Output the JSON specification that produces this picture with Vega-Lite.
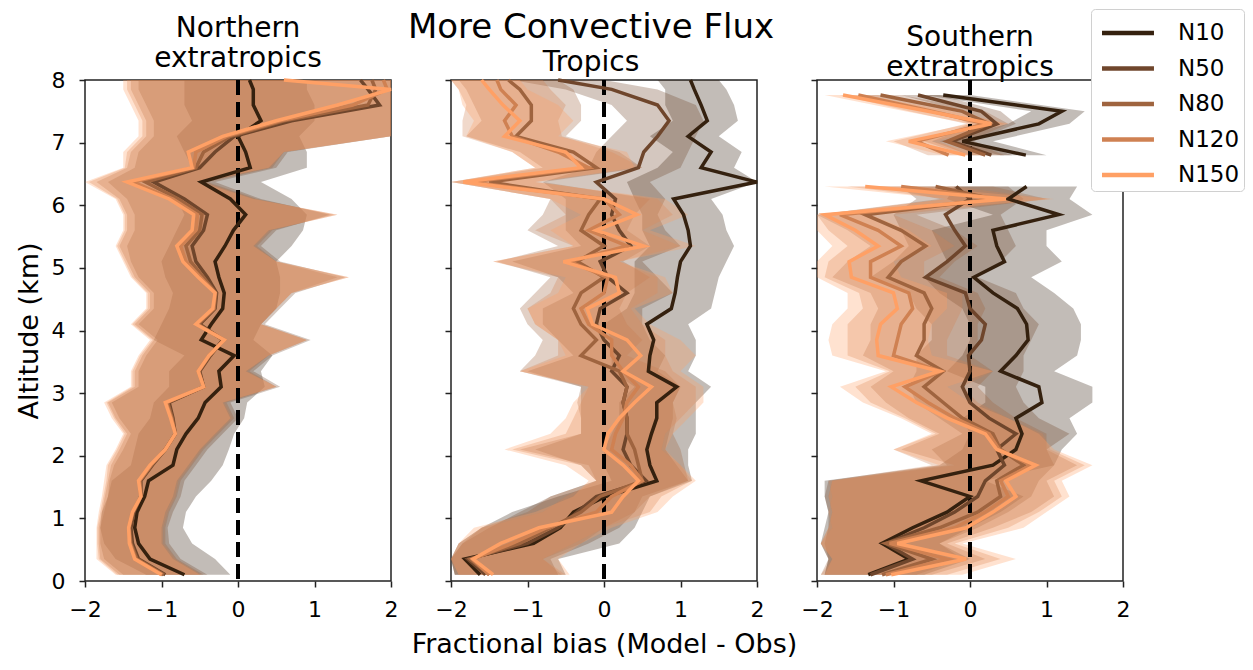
{
"$schema": "https://vega.github.io/schema/vega-lite/v6.json",
"background": "white",
"padding": {"left": 14, "top": 8, "right": 5, "bottom": 5},
"bounds": "flush",
"spacing": 60,
"datasets": {"d": [
{"p":1,"s":"N10","a":0.1,"x":-0.7,"lo":-1.2,"hi":-0.1},
{"p":1,"s":"N10","a":0.35,"x":-1.15,"lo":-1.6,"hi":-0.3},
{"p":1,"s":"N10","a":0.6,"x":-1.3,"lo":-1.75,"hi":-0.6},
{"p":1,"s":"N10","a":0.85,"x":-1.35,"lo":-1.8,"hi":-0.72},
{"p":1,"s":"N10","a":1.1,"x":-1.32,"lo":-1.78,"hi":-0.68},
{"p":1,"s":"N10","a":1.35,"x":-1.22,"lo":-1.7,"hi":-0.55},
{"p":1,"s":"N10","a":1.6,"x":-1.17,"lo":-1.65,"hi":-0.35},
{"p":1,"s":"N10","a":1.85,"x":-0.85,"lo":-1.4,"hi":-0.2},
{"p":1,"s":"N10","a":2.1,"x":-0.8,"lo":-1.35,"hi":-0.12},
{"p":1,"s":"N10","a":2.35,"x":-0.68,"lo":-1.3,"hi":-0.05},
{"p":1,"s":"N10","a":2.6,"x":-0.52,"lo":-1.15,"hi":0.08},
{"p":1,"s":"N10","a":2.85,"x":-0.43,"lo":-1.1,"hi":0.12},
{"p":1,"s":"N10","a":3.1,"x":-0.22,"lo":-0.9,"hi":0.35},
{"p":1,"s":"N10","a":3.35,"x":-0.25,"lo":-0.9,"hi":0.3},
{"p":1,"s":"N10","a":3.6,"x":-0.05,"lo":-0.7,"hi":0.45},
{"p":1,"s":"N10","a":3.85,"x":-0.48,"lo":-1.1,"hi":0.2},
{"p":1,"s":"N10","a":4.1,"x":-0.35,"lo":-1.0,"hi":0.3},
{"p":1,"s":"N10","a":4.35,"x":-0.2,"lo":-0.9,"hi":0.5},
{"p":1,"s":"N10","a":4.6,"x":-0.18,"lo":-0.85,"hi":0.55},
{"p":1,"s":"N10","a":4.85,"x":-0.25,"lo":-0.95,"hi":0.55},
{"p":1,"s":"N10","a":5.1,"x":-0.3,"lo":-1.0,"hi":0.5},
{"p":1,"s":"N10","a":5.35,"x":-0.17,"lo":-0.9,"hi":0.7},
{"p":1,"s":"N10","a":5.6,"x":-0.06,"lo":-0.8,"hi":0.85},
{"p":1,"s":"N10","a":5.85,"x":0.1,"lo":-0.7,"hi":0.9},
{"p":1,"s":"N10","a":6.1,"x":-0.1,"lo":-0.8,"hi":0.7},
{"p":1,"s":"N10","a":6.37,"x":-0.48,"lo":-1.1,"hi":0.3},
{"p":1,"s":"N10","a":6.6,"x":0.16,"lo":-0.6,"hi":0.9},
{"p":1,"s":"N10","a":6.85,"x":0.1,"lo":-0.7,"hi":0.9},
{"p":1,"s":"N10","a":7.1,"x":0.0,"lo":-0.8,"hi":0.8},
{"p":1,"s":"N10","a":7.35,"x":0.3,"lo":-0.6,"hi":1.0},
{"p":1,"s":"N10","a":7.6,"x":0.2,"lo":-0.7,"hi":1.0},
{"p":1,"s":"N10","a":7.85,"x":0.2,"lo":-0.7,"hi":0.9},
{"p":1,"s":"N10","a":8.0,"x":0.15,"lo":-0.7,"hi":0.9},
{"p":1,"s":"N50","a":0.1,"x":-0.95,"lo":-1.5,"hi":-0.4},
{"p":1,"s":"N50","a":0.35,"x":-1.3,"lo":-1.75,"hi":-0.75},
{"p":1,"s":"N50","a":0.6,"x":-1.38,"lo":-1.8,"hi":-0.9},
{"p":1,"s":"N50","a":0.85,"x":-1.4,"lo":-1.8,"hi":-0.92},
{"p":1,"s":"N50","a":1.1,"x":-1.36,"lo":-1.75,"hi":-0.85},
{"p":1,"s":"N50","a":1.35,"x":-1.27,"lo":-1.7,"hi":-0.75},
{"p":1,"s":"N50","a":1.6,"x":-1.27,"lo":-1.68,"hi":-0.7},
{"p":1,"s":"N50","a":1.85,"x":-1.12,"lo":-1.62,"hi":-0.55},
{"p":1,"s":"N50","a":2.1,"x":-0.95,"lo":-1.5,"hi":-0.4},
{"p":1,"s":"N50","a":2.35,"x":-0.82,"lo":-1.4,"hi":-0.2},
{"p":1,"s":"N50","a":2.6,"x":-0.85,"lo":-1.55,"hi":0.0},
{"p":1,"s":"N50","a":2.85,"x":-0.9,"lo":-1.65,"hi":-0.1},
{"p":1,"s":"N50","a":3.1,"x":-0.45,"lo":-1.3,"hi":0.55},
{"p":1,"s":"N50","a":3.35,"x":-0.5,"lo":-1.3,"hi":0.2},
{"p":1,"s":"N50","a":3.6,"x":-0.36,"lo":-1.2,"hi":0.45},
{"p":1,"s":"N50","a":3.85,"x":-0.2,"lo":-1.05,"hi":0.95},
{"p":1,"s":"N50","a":4.1,"x":-0.5,"lo":-1.3,"hi":0.35},
{"p":1,"s":"N50","a":4.35,"x":-0.3,"lo":-1.1,"hi":0.55},
{"p":1,"s":"N50","a":4.6,"x":-0.28,"lo":-1.1,"hi":0.75},
{"p":1,"s":"N50","a":4.85,"x":-0.4,"lo":-1.3,"hi":1.4},
{"p":1,"s":"N50","a":5.1,"x":-0.55,"lo":-1.4,"hi":0.55},
{"p":1,"s":"N50","a":5.35,"x":-0.6,"lo":-1.45,"hi":0.3},
{"p":1,"s":"N50","a":5.6,"x":-0.45,"lo":-1.35,"hi":0.5},
{"p":1,"s":"N50","a":5.85,"x":-0.4,"lo":-1.35,"hi":1.2},
{"p":1,"s":"N50","a":6.1,"x":-0.7,"lo":-1.45,"hi":0.3},
{"p":1,"s":"N50","a":6.37,"x":-1.1,"lo":-1.7,"hi":-0.3},
{"p":1,"s":"N50","a":6.6,"x":-0.5,"lo":-1.35,"hi":0.5},
{"p":1,"s":"N50","a":6.85,"x":-0.3,"lo":-1.3,"hi":0.65},
{"p":1,"s":"N50","a":7.1,"x":-0.05,"lo":-1.1,"hi":2.0},
{"p":1,"s":"N50","a":7.35,"x":0.7,"lo":-1.1,"hi":2.0},
{"p":1,"s":"N50","a":7.6,"x":1.85,"lo":-1.2,"hi":2.0},
{"p":1,"s":"N50","a":7.85,"x":1.7,"lo":-1.3,"hi":2.0},
{"p":1,"s":"N50","a":8.0,"x":1.6,"lo":-1.3,"hi":2.0},
{"p":1,"s":"N80","a":0.1,"x":-0.97,"lo":-1.55,"hi":-0.45},
{"p":1,"s":"N80","a":0.35,"x":-1.32,"lo":-1.8,"hi":-0.8},
{"p":1,"s":"N80","a":0.6,"x":-1.4,"lo":-1.82,"hi":-0.95},
{"p":1,"s":"N80","a":0.85,"x":-1.42,"lo":-1.82,"hi":-0.95},
{"p":1,"s":"N80","a":1.1,"x":-1.37,"lo":-1.78,"hi":-0.9},
{"p":1,"s":"N80","a":1.35,"x":-1.27,"lo":-1.74,"hi":-0.8},
{"p":1,"s":"N80","a":1.6,"x":-1.28,"lo":-1.7,"hi":-0.75},
{"p":1,"s":"N80","a":1.85,"x":-1.13,"lo":-1.66,"hi":-0.6},
{"p":1,"s":"N80","a":2.1,"x":-0.95,"lo":-1.55,"hi":-0.45},
{"p":1,"s":"N80","a":2.35,"x":-0.82,"lo":-1.45,"hi":-0.25},
{"p":1,"s":"N80","a":2.6,"x":-0.86,"lo":-1.6,"hi":-0.05},
{"p":1,"s":"N80","a":2.85,"x":-0.92,"lo":-1.7,"hi":-0.15},
{"p":1,"s":"N80","a":3.1,"x":-0.45,"lo":-1.35,"hi":0.5},
{"p":1,"s":"N80","a":3.35,"x":-0.51,"lo":-1.35,"hi":0.15},
{"p":1,"s":"N80","a":3.6,"x":-0.37,"lo":-1.25,"hi":0.4},
{"p":1,"s":"N80","a":3.85,"x":-0.19,"lo":-1.1,"hi":0.9},
{"p":1,"s":"N80","a":4.1,"x":-0.52,"lo":-1.35,"hi":0.3},
{"p":1,"s":"N80","a":4.35,"x":-0.31,"lo":-1.15,"hi":0.5},
{"p":1,"s":"N80","a":4.6,"x":-0.29,"lo":-1.15,"hi":0.7},
{"p":1,"s":"N80","a":4.85,"x":-0.45,"lo":-1.35,"hi":1.3},
{"p":1,"s":"N80","a":5.1,"x":-0.62,"lo":-1.45,"hi":0.5},
{"p":1,"s":"N80","a":5.35,"x":-0.68,"lo":-1.55,"hi":0.25},
{"p":1,"s":"N80","a":5.6,"x":-0.5,"lo":-1.45,"hi":0.45},
{"p":1,"s":"N80","a":5.85,"x":-0.47,"lo":-1.45,"hi":1.25},
{"p":1,"s":"N80","a":6.1,"x":-0.78,"lo":-1.55,"hi":0.25},
{"p":1,"s":"N80","a":6.37,"x":-1.21,"lo":-1.85,"hi":-0.4},
{"p":1,"s":"N80","a":6.6,"x":-0.55,"lo":-1.45,"hi":0.45},
{"p":1,"s":"N80","a":6.85,"x":-0.45,"lo":-1.4,"hi":0.6},
{"p":1,"s":"N80","a":7.1,"x":-0.1,"lo":-1.2,"hi":2.0},
{"p":1,"s":"N80","a":7.35,"x":0.6,"lo":-1.2,"hi":2.0},
{"p":1,"s":"N80","a":7.6,"x":1.7,"lo":-1.3,"hi":2.0},
{"p":1,"s":"N80","a":7.85,"x":1.8,"lo":-1.4,"hi":2.0},
{"p":1,"s":"N80","a":8.0,"x":1.75,"lo":-1.4,"hi":2.0},
{"p":1,"s":"N120","a":0.1,"x":-0.99,"lo":-1.58,"hi":-0.48},
{"p":1,"s":"N120","a":0.35,"x":-1.34,"lo":-1.82,"hi":-0.82},
{"p":1,"s":"N120","a":0.6,"x":-1.41,"lo":-1.84,"hi":-0.98},
{"p":1,"s":"N120","a":0.85,"x":-1.43,"lo":-1.84,"hi":-0.98},
{"p":1,"s":"N120","a":1.1,"x":-1.38,"lo":-1.8,"hi":-0.92},
{"p":1,"s":"N120","a":1.35,"x":-1.27,"lo":-1.76,"hi":-0.82},
{"p":1,"s":"N120","a":1.6,"x":-1.29,"lo":-1.72,"hi":-0.78},
{"p":1,"s":"N120","a":1.85,"x":-1.14,"lo":-1.7,"hi":-0.62},
{"p":1,"s":"N120","a":2.1,"x":-0.95,"lo":-1.58,"hi":-0.48},
{"p":1,"s":"N120","a":2.35,"x":-0.82,"lo":-1.48,"hi":-0.28},
{"p":1,"s":"N120","a":2.6,"x":-0.87,"lo":-1.62,"hi":-0.08},
{"p":1,"s":"N120","a":2.85,"x":-0.94,"lo":-1.72,"hi":-0.18},
{"p":1,"s":"N120","a":3.1,"x":-0.45,"lo":-1.38,"hi":0.5},
{"p":1,"s":"N120","a":3.35,"x":-0.52,"lo":-1.38,"hi":0.12},
{"p":1,"s":"N120","a":3.6,"x":-0.38,"lo":-1.28,"hi":0.4},
{"p":1,"s":"N120","a":3.85,"x":-0.18,"lo":-1.12,"hi":0.9},
{"p":1,"s":"N120","a":4.1,"x":-0.54,"lo":-1.38,"hi":0.3},
{"p":1,"s":"N120","a":4.35,"x":-0.32,"lo":-1.18,"hi":0.5},
{"p":1,"s":"N120","a":4.6,"x":-0.3,"lo":-1.18,"hi":0.7},
{"p":1,"s":"N120","a":4.85,"x":-0.49,"lo":-1.38,"hi":1.45},
{"p":1,"s":"N120","a":5.1,"x":-0.68,"lo":-1.48,"hi":0.5},
{"p":1,"s":"N120","a":5.35,"x":-0.75,"lo":-1.58,"hi":0.22},
{"p":1,"s":"N120","a":5.6,"x":-0.55,"lo":-1.48,"hi":0.42},
{"p":1,"s":"N120","a":5.85,"x":-0.53,"lo":-1.48,"hi":1.3},
{"p":1,"s":"N120","a":6.1,"x":-0.85,"lo":-1.58,"hi":0.22},
{"p":1,"s":"N120","a":6.37,"x":-1.37,"lo":-1.95,"hi":-0.45},
{"p":1,"s":"N120","a":6.6,"x":-0.58,"lo":-1.48,"hi":0.42},
{"p":1,"s":"N120","a":6.85,"x":-0.55,"lo":-1.45,"hi":0.6},
{"p":1,"s":"N120","a":7.1,"x":-0.15,"lo":-1.25,"hi":2.0},
{"p":1,"s":"N120","a":7.35,"x":0.55,"lo":-1.25,"hi":2.0},
{"p":1,"s":"N120","a":7.6,"x":1.5,"lo":-1.35,"hi":2.0},
{"p":1,"s":"N120","a":7.85,"x":1.95,"lo":-1.45,"hi":2.0},
{"p":1,"s":"N120","a":8.0,"x":1.9,"lo":-1.45,"hi":2.0},
{"p":1,"s":"N150","a":0.1,"x":-1.0,"lo":-1.6,"hi":-0.5},
{"p":1,"s":"N150","a":0.35,"x":-1.35,"lo":-1.85,"hi":-0.85},
{"p":1,"s":"N150","a":0.6,"x":-1.42,"lo":-1.85,"hi":-1.0},
{"p":1,"s":"N150","a":0.85,"x":-1.43,"lo":-1.85,"hi":-1.0},
{"p":1,"s":"N150","a":1.1,"x":-1.38,"lo":-1.82,"hi":-0.95},
{"p":1,"s":"N150","a":1.35,"x":-1.27,"lo":-1.78,"hi":-0.85},
{"p":1,"s":"N150","a":1.6,"x":-1.3,"lo":-1.75,"hi":-0.8},
{"p":1,"s":"N150","a":1.85,"x":-1.15,"lo":-1.72,"hi":-0.65},
{"p":1,"s":"N150","a":2.1,"x":-0.95,"lo":-1.6,"hi":-0.5},
{"p":1,"s":"N150","a":2.35,"x":-0.82,"lo":-1.5,"hi":-0.3},
{"p":1,"s":"N150","a":2.6,"x":-0.88,"lo":-1.65,"hi":-0.1},
{"p":1,"s":"N150","a":2.85,"x":-0.95,"lo":-1.75,"hi":-0.2},
{"p":1,"s":"N150","a":3.1,"x":-0.45,"lo":-1.4,"hi":0.5},
{"p":1,"s":"N150","a":3.35,"x":-0.52,"lo":-1.4,"hi":0.1},
{"p":1,"s":"N150","a":3.6,"x":-0.38,"lo":-1.3,"hi":0.4},
{"p":1,"s":"N150","a":3.85,"x":-0.18,"lo":-1.15,"hi":0.9},
{"p":1,"s":"N150","a":4.1,"x":-0.55,"lo":-1.4,"hi":0.3},
{"p":1,"s":"N150","a":4.35,"x":-0.33,"lo":-1.2,"hi":0.5},
{"p":1,"s":"N150","a":4.6,"x":-0.3,"lo":-1.2,"hi":0.7},
{"p":1,"s":"N150","a":4.85,"x":-0.52,"lo":-1.4,"hi":1.45},
{"p":1,"s":"N150","a":5.1,"x":-0.72,"lo":-1.5,"hi":0.5},
{"p":1,"s":"N150","a":5.35,"x":-0.8,"lo":-1.6,"hi":0.2},
{"p":1,"s":"N150","a":5.6,"x":-0.6,"lo":-1.5,"hi":0.4},
{"p":1,"s":"N150","a":5.85,"x":-0.58,"lo":-1.5,"hi":1.3},
{"p":1,"s":"N150","a":6.1,"x":-0.9,"lo":-1.6,"hi":0.2},
{"p":1,"s":"N150","a":6.37,"x":-1.45,"lo":-2.0,"hi":-0.5},
{"p":1,"s":"N150","a":6.6,"x":-0.6,"lo":-1.5,"hi":0.4},
{"p":1,"s":"N150","a":6.85,"x":-0.65,"lo":-1.5,"hi":0.6},
{"p":1,"s":"N150","a":7.1,"x":-0.2,"lo":-1.3,"hi":2.0},
{"p":1,"s":"N150","a":7.35,"x":0.5,"lo":-1.3,"hi":2.0},
{"p":1,"s":"N150","a":7.6,"x":1.3,"lo":-1.4,"hi":2.0},
{"p":1,"s":"N150","a":7.85,"x":2.0,"lo":-1.5,"hi":2.0},
{"p":1,"s":"N150","a":8.0,"x":0.6,"lo":-1.5,"hi":2.0},
{"p":2,"s":"N10","a":0.1,"x":-1.62,"lo":-1.95,"hi":-0.5},
{"p":2,"s":"N10","a":0.35,"x":-1.82,"lo":-2.0,"hi":-0.6},
{"p":2,"s":"N10","a":0.6,"x":-0.92,"lo":-1.9,"hi":0.2},
{"p":2,"s":"N10","a":0.85,"x":-0.57,"lo":-1.6,"hi":0.4},
{"p":2,"s":"N10","a":1.1,"x":-0.4,"lo":-1.2,"hi":0.5},
{"p":2,"s":"N10","a":1.35,"x":0.02,"lo":-0.6,"hi":0.6},
{"p":2,"s":"N10","a":1.6,"x":0.69,"lo":0.1,"hi":1.15},
{"p":2,"s":"N10","a":1.85,"x":0.6,"lo":0.0,"hi":1.1},
{"p":2,"s":"N10","a":2.1,"x":0.56,"lo":0.0,"hi":1.1},
{"p":2,"s":"N10","a":2.35,"x":0.62,"lo":0.1,"hi":1.2},
{"p":2,"s":"N10","a":2.6,"x":0.69,"lo":0.2,"hi":1.2},
{"p":2,"s":"N10","a":2.85,"x":0.69,"lo":0.2,"hi":1.2},
{"p":2,"s":"N10","a":3.1,"x":0.95,"lo":0.4,"hi":1.4},
{"p":2,"s":"N10","a":3.35,"x":0.58,"lo":0.1,"hi":1.1},
{"p":2,"s":"N10","a":3.6,"x":0.6,"lo":0.1,"hi":1.2},
{"p":2,"s":"N10","a":3.85,"x":0.65,"lo":0.1,"hi":1.2},
{"p":2,"s":"N10","a":4.1,"x":0.56,"lo":0.0,"hi":1.1},
{"p":2,"s":"N10","a":4.35,"x":0.88,"lo":0.3,"hi":1.4},
{"p":2,"s":"N10","a":4.6,"x":0.93,"lo":0.4,"hi":1.45},
{"p":2,"s":"N10","a":4.85,"x":0.96,"lo":0.4,"hi":1.5},
{"p":2,"s":"N10","a":5.1,"x":1.0,"lo":0.4,"hi":1.6},
{"p":2,"s":"N10","a":5.35,"x":1.13,"lo":0.6,"hi":1.7},
{"p":2,"s":"N10","a":5.6,"x":1.1,"lo":0.5,"hi":1.6},
{"p":2,"s":"N10","a":5.85,"x":1.04,"lo":0.5,"hi":1.55},
{"p":2,"s":"N10","a":6.1,"x":0.91,"lo":0.4,"hi":1.4},
{"p":2,"s":"N10","a":6.37,"x":2.0,"lo":0.3,"hi":2.0},
{"p":2,"s":"N10","a":6.6,"x":1.27,"lo":0.7,"hi":1.7},
{"p":2,"s":"N10","a":6.85,"x":1.4,"lo":0.9,"hi":1.8},
{"p":2,"s":"N10","a":7.1,"x":1.1,"lo":0.6,"hi":1.5},
{"p":2,"s":"N10","a":7.35,"x":1.35,"lo":0.9,"hi":1.75},
{"p":2,"s":"N10","a":7.6,"x":1.27,"lo":0.8,"hi":1.7},
{"p":2,"s":"N10","a":7.85,"x":1.18,"lo":0.8,"hi":1.6},
{"p":2,"s":"N10","a":8.0,"x":1.13,"lo":0.7,"hi":1.5},
{"p":2,"s":"N50","a":0.1,"x":-1.55,"lo":-1.95,"hi":-0.6},
{"p":2,"s":"N50","a":0.35,"x":-1.78,"lo":-2.0,"hi":-0.7},
{"p":2,"s":"N50","a":0.6,"x":-1.0,"lo":-1.85,"hi":-0.2},
{"p":2,"s":"N50","a":0.85,"x":-0.6,"lo":-1.5,"hi":0.2},
{"p":2,"s":"N50","a":1.1,"x":-0.35,"lo":-1.1,"hi":0.4},
{"p":2,"s":"N50","a":1.35,"x":-0.1,"lo":-0.7,"hi":0.5},
{"p":2,"s":"N50","a":1.6,"x":0.55,"lo":-0.1,"hi":1.1},
{"p":2,"s":"N50","a":1.85,"x":0.35,"lo":-0.3,"hi":0.95},
{"p":2,"s":"N50","a":2.1,"x":0.25,"lo":-0.9,"hi":0.8},
{"p":2,"s":"N50","a":2.35,"x":0.3,"lo":-0.3,"hi":0.85},
{"p":2,"s":"N50","a":2.6,"x":0.3,"lo":-0.3,"hi":0.9},
{"p":2,"s":"N50","a":2.85,"x":0.25,"lo":-0.3,"hi":0.9},
{"p":2,"s":"N50","a":3.1,"x":0.3,"lo":-0.3,"hi":1.0},
{"p":2,"s":"N50","a":3.35,"x":0.1,"lo":-1.0,"hi":0.7},
{"p":2,"s":"N50","a":3.6,"x":0.2,"lo":-0.4,"hi":0.8},
{"p":2,"s":"N50","a":3.85,"x":0.0,"lo":-0.6,"hi":0.6},
{"p":2,"s":"N50","a":4.1,"x":-0.1,"lo":-0.8,"hi":0.5},
{"p":2,"s":"N50","a":4.35,"x":-0.05,"lo":-0.8,"hi":0.5},
{"p":2,"s":"N50","a":4.6,"x":0.3,"lo":-0.4,"hi":0.9},
{"p":2,"s":"N50","a":4.85,"x":0.05,"lo":-0.6,"hi":0.7},
{"p":2,"s":"N50","a":5.1,"x":-0.05,"lo":-1.2,"hi":0.5},
{"p":2,"s":"N50","a":5.35,"x":0.35,"lo":-0.3,"hi":1.0},
{"p":2,"s":"N50","a":5.6,"x":0.2,"lo":-0.5,"hi":0.8},
{"p":2,"s":"N50","a":5.85,"x":0.1,"lo":-0.5,"hi":0.7},
{"p":2,"s":"N50","a":6.1,"x":0.15,"lo":-0.5,"hi":0.8},
{"p":2,"s":"N50","a":6.37,"x":-0.1,"lo":-0.8,"hi":0.6},
{"p":2,"s":"N50","a":6.6,"x":0.45,"lo":-0.2,"hi":1.0},
{"p":2,"s":"N50","a":6.85,"x":0.52,"lo":-0.1,"hi":1.1},
{"p":2,"s":"N50","a":7.1,"x":0.7,"lo":0.1,"hi":1.2},
{"p":2,"s":"N50","a":7.35,"x":0.85,"lo":0.3,"hi":1.3},
{"p":2,"s":"N50","a":7.6,"x":0.7,"lo":0.1,"hi":1.2},
{"p":2,"s":"N50","a":7.85,"x":0.1,"lo":-0.5,"hi":0.7},
{"p":2,"s":"N50","a":8.0,"x":-0.6,"lo":-1.2,"hi":0.0},
{"p":2,"s":"N80","a":0.1,"x":-1.5,"lo":-1.95,"hi":-0.55},
{"p":2,"s":"N80","a":0.35,"x":-1.75,"lo":-2.0,"hi":-0.8},
{"p":2,"s":"N80","a":0.6,"x":-1.1,"lo":-1.85,"hi":-0.3},
{"p":2,"s":"N80","a":0.85,"x":-0.7,"lo":-1.6,"hi":0.0},
{"p":2,"s":"N80","a":1.1,"x":-0.3,"lo":-1.0,"hi":0.4},
{"p":2,"s":"N80","a":1.35,"x":-0.05,"lo":-0.7,"hi":0.6},
{"p":2,"s":"N80","a":1.6,"x":0.5,"lo":-0.1,"hi":1.1},
{"p":2,"s":"N80","a":1.85,"x":0.45,"lo":-0.2,"hi":1.05},
{"p":2,"s":"N80","a":2.1,"x":0.4,"lo":-1.1,"hi":1.0},
{"p":2,"s":"N80","a":2.35,"x":0.3,"lo":-0.3,"hi":0.9},
{"p":2,"s":"N80","a":2.6,"x":0.3,"lo":-0.3,"hi":0.95},
{"p":2,"s":"N80","a":2.85,"x":0.25,"lo":-0.35,"hi":0.9},
{"p":2,"s":"N80","a":3.1,"x":0.3,"lo":-0.3,"hi":1.0},
{"p":2,"s":"N80","a":3.35,"x":0.2,"lo":-1.1,"hi":0.8},
{"p":2,"s":"N80","a":3.6,"x":-0.3,"lo":-0.9,"hi":0.3},
{"p":2,"s":"N80","a":3.85,"x":-0.1,"lo":-0.8,"hi":0.5},
{"p":2,"s":"N80","a":4.1,"x":-0.3,"lo":-1.0,"hi":0.3},
{"p":2,"s":"N80","a":4.35,"x":-0.4,"lo":-1.1,"hi":0.2},
{"p":2,"s":"N80","a":4.6,"x":-0.3,"lo":-0.9,"hi":0.3},
{"p":2,"s":"N80","a":4.85,"x":0.0,"lo":-0.7,"hi":0.6},
{"p":2,"s":"N80","a":5.1,"x":-0.35,"lo":-1.4,"hi":0.25},
{"p":2,"s":"N80","a":5.35,"x":0.0,"lo":-0.6,"hi":0.6},
{"p":2,"s":"N80","a":5.6,"x":-0.3,"lo":-1.0,"hi":0.3},
{"p":2,"s":"N80","a":5.85,"x":-0.2,"lo":-0.8,"hi":0.4},
{"p":2,"s":"N80","a":6.1,"x":-0.05,"lo":-0.7,"hi":0.6},
{"p":2,"s":"N80","a":6.37,"x":-1.5,"lo":-2.0,"hi":-0.8},
{"p":2,"s":"N80","a":6.6,"x":-0.1,"lo":-0.8,"hi":0.5},
{"p":2,"s":"N80","a":6.85,"x":-0.4,"lo":-1.1,"hi":0.2},
{"p":2,"s":"N80","a":7.1,"x":-1.15,"lo":-1.8,"hi":-0.5},
{"p":2,"s":"N80","a":7.35,"x":-0.95,"lo":-1.6,"hi":-0.3},
{"p":2,"s":"N80","a":7.6,"x":-0.95,"lo":-1.7,"hi":-0.3},
{"p":2,"s":"N80","a":7.85,"x":-1.1,"lo":-1.8,"hi":-0.4},
{"p":2,"s":"N80","a":8.0,"x":-1.25,"lo":-1.9,"hi":-0.6},
{"p":2,"s":"N120","a":0.1,"x":-1.5,"lo":-1.9,"hi":-0.5},
{"p":2,"s":"N120","a":0.35,"x":-1.72,"lo":-2.0,"hi":-0.8},
{"p":2,"s":"N120","a":0.6,"x":-1.2,"lo":-1.9,"hi":-0.4},
{"p":2,"s":"N120","a":0.85,"x":-0.75,"lo":-1.6,"hi":0.0},
{"p":2,"s":"N120","a":1.1,"x":-0.1,"lo":-0.8,"hi":0.6},
{"p":2,"s":"N120","a":1.35,"x":0.1,"lo":-0.5,"hi":0.75},
{"p":2,"s":"N120","a":1.6,"x":0.5,"lo":-0.1,"hi":1.15},
{"p":2,"s":"N120","a":1.85,"x":0.35,"lo":-0.3,"hi":1.0},
{"p":2,"s":"N120","a":2.1,"x":0.1,"lo":-1.2,"hi":0.75},
{"p":2,"s":"N120","a":2.35,"x":0.15,"lo":-0.5,"hi":0.8},
{"p":2,"s":"N120","a":2.6,"x":0.25,"lo":-0.4,"hi":1.0},
{"p":2,"s":"N120","a":2.85,"x":0.3,"lo":-0.3,"hi":1.2},
{"p":2,"s":"N120","a":3.1,"x":0.45,"lo":-0.2,"hi":1.2},
{"p":2,"s":"N120","a":3.35,"x":0.25,"lo":-1.1,"hi":0.9},
{"p":2,"s":"N120","a":3.6,"x":0.1,"lo":-0.6,"hi":0.8},
{"p":2,"s":"N120","a":3.85,"x":0.1,"lo":-0.6,"hi":0.8},
{"p":2,"s":"N120","a":4.1,"x":-0.2,"lo":-0.9,"hi":0.5},
{"p":2,"s":"N120","a":4.35,"x":-0.3,"lo":-1.0,"hi":0.35},
{"p":2,"s":"N120","a":4.6,"x":0.0,"lo":-0.7,"hi":0.7},
{"p":2,"s":"N120","a":4.85,"x":0.05,"lo":-0.6,"hi":0.7},
{"p":2,"s":"N120","a":5.1,"x":-0.45,"lo":-1.45,"hi":0.2},
{"p":2,"s":"N120","a":5.35,"x":0.3,"lo":-0.4,"hi":1.0},
{"p":2,"s":"N120","a":5.6,"x":-0.2,"lo":-0.9,"hi":0.5},
{"p":2,"s":"N120","a":5.85,"x":0.2,"lo":-0.5,"hi":0.9},
{"p":2,"s":"N120","a":6.1,"x":0.0,"lo":-0.7,"hi":0.7},
{"p":2,"s":"N120","a":6.37,"x":-1.75,"lo":-2.0,"hi":-0.9},
{"p":2,"s":"N120","a":6.6,"x":-0.2,"lo":-0.9,"hi":0.5},
{"p":2,"s":"N120","a":6.85,"x":-0.6,"lo":-1.2,"hi":0.1},
{"p":2,"s":"N120","a":7.1,"x":-1.2,"lo":-1.85,"hi":-0.55},
{"p":2,"s":"N120","a":7.35,"x":-1.3,"lo":-1.85,"hi":-0.6},
{"p":2,"s":"N120","a":7.6,"x":-1.15,"lo":-1.8,"hi":-0.5},
{"p":2,"s":"N120","a":7.85,"x":-1.35,"lo":-1.9,"hi":-0.7},
{"p":2,"s":"N120","a":8.0,"x":-1.4,"lo":-2.0,"hi":-0.8},
{"p":2,"s":"N150","a":0.1,"x":-1.45,"lo":-1.9,"hi":-0.45},
{"p":2,"s":"N150","a":0.35,"x":-1.71,"lo":-2.0,"hi":-0.6},
{"p":2,"s":"N150","a":0.6,"x":-1.35,"lo":-1.9,"hi":-0.3},
{"p":2,"s":"N150","a":0.85,"x":-0.85,"lo":-1.7,"hi":0.1},
{"p":2,"s":"N150","a":1.1,"x":0.1,"lo":-0.9,"hi":0.7},
{"p":2,"s":"N150","a":1.35,"x":0.25,"lo":-0.4,"hi":0.9},
{"p":2,"s":"N150","a":1.6,"x":0.45,"lo":-0.2,"hi":1.2},
{"p":2,"s":"N150","a":1.85,"x":0.25,"lo":-0.5,"hi":1.0},
{"p":2,"s":"N150","a":2.1,"x":0.0,"lo":-1.3,"hi":0.8},
{"p":2,"s":"N150","a":2.35,"x":0.05,"lo":-0.7,"hi":0.9},
{"p":2,"s":"N150","a":2.6,"x":0.2,"lo":-0.5,"hi":1.1},
{"p":2,"s":"N150","a":2.85,"x":0.4,"lo":-0.4,"hi":1.3},
{"p":2,"s":"N150","a":3.1,"x":0.62,"lo":-0.2,"hi":1.3},
{"p":2,"s":"N150","a":3.35,"x":0.25,"lo":-1.1,"hi":1.0},
{"p":2,"s":"N150","a":3.6,"x":0.48,"lo":-0.5,"hi":1.2},
{"p":2,"s":"N150","a":3.85,"x":0.3,"lo":-0.6,"hi":1.0},
{"p":2,"s":"N150","a":4.1,"x":-0.15,"lo":-0.9,"hi":0.6},
{"p":2,"s":"N150","a":4.35,"x":-0.22,"lo":-1.0,"hi":0.4},
{"p":2,"s":"N150","a":4.6,"x":0.2,"lo":-0.6,"hi":0.9},
{"p":2,"s":"N150","a":4.85,"x":0.15,"lo":-0.5,"hi":0.8},
{"p":2,"s":"N150","a":5.1,"x":-0.53,"lo":-1.45,"hi":0.2},
{"p":2,"s":"N150","a":5.35,"x":0.52,"lo":-0.4,"hi":1.2},
{"p":2,"s":"N150","a":5.6,"x":-0.1,"lo":-0.7,"hi":0.6},
{"p":2,"s":"N150","a":5.85,"x":0.43,"lo":-0.3,"hi":1.1},
{"p":2,"s":"N150","a":6.1,"x":0.0,"lo":-0.7,"hi":0.8},
{"p":2,"s":"N150","a":6.37,"x":-1.84,"lo":-2.0,"hi":-0.9},
{"p":2,"s":"N150","a":6.6,"x":-0.3,"lo":-0.9,"hi":0.4},
{"p":2,"s":"N150","a":6.85,"x":-0.5,"lo":-1.2,"hi":0.3},
{"p":2,"s":"N150","a":7.1,"x":-1.3,"lo":-1.8,"hi":-0.6},
{"p":2,"s":"N150","a":7.35,"x":-1.1,"lo":-1.7,"hi":-0.4},
{"p":2,"s":"N150","a":7.6,"x":-1.32,"lo":-1.85,"hi":-0.6},
{"p":2,"s":"N150","a":7.85,"x":-1.5,"lo":-1.9,"hi":-1.0},
{"p":2,"s":"N150","a":8.0,"x":-1.6,"lo":-2.0,"hi":-1.1},
{"p":3,"g":0,"s":"N10","a":0.1,"x":-1.33,"lo":-1.9,"hi":-0.6},
{"p":3,"g":0,"s":"N10","a":0.35,"x":-0.8,"lo":-1.85,"hi":0.0},
{"p":3,"g":0,"s":"N10","a":0.6,"x":-1.15,"lo":-1.95,"hi":-0.4},
{"p":3,"g":0,"s":"N10","a":0.85,"x":-0.75,"lo":-1.9,"hi":0.0},
{"p":3,"g":0,"s":"N10","a":1.1,"x":-0.3,"lo":-1.85,"hi":0.4},
{"p":3,"g":0,"s":"N10","a":1.35,"x":0.0,"lo":-1.9,"hi":0.7},
{"p":3,"g":0,"s":"N10","a":1.6,"x":-0.64,"lo":-1.9,"hi":0.2},
{"p":3,"g":0,"s":"N10","a":1.85,"x":0.3,"lo":-0.4,"hi":1.1},
{"p":3,"g":0,"s":"N10","a":2.1,"x":0.6,"lo":-0.1,"hi":1.2},
{"p":3,"g":0,"s":"N10","a":2.35,"x":0.68,"lo":0.0,"hi":1.4},
{"p":3,"g":0,"s":"N10","a":2.6,"x":0.6,"lo":-0.1,"hi":1.3},
{"p":3,"g":0,"s":"N10","a":2.85,"x":0.94,"lo":0.2,"hi":1.6},
{"p":3,"g":0,"s":"N10","a":3.1,"x":0.9,"lo":0.2,"hi":1.6},
{"p":3,"g":0,"s":"N10","a":3.35,"x":0.4,"lo":-0.3,"hi":1.1},
{"p":3,"g":0,"s":"N10","a":3.6,"x":0.6,"lo":-0.1,"hi":1.4},
{"p":3,"g":0,"s":"N10","a":3.85,"x":0.76,"lo":0.0,"hi":1.45},
{"p":3,"g":0,"s":"N10","a":4.1,"x":0.74,"lo":0.0,"hi":1.45},
{"p":3,"g":0,"s":"N10","a":4.35,"x":0.62,"lo":-0.1,"hi":1.35},
{"p":3,"g":0,"s":"N10","a":4.6,"x":0.3,"lo":-0.4,"hi":1.1},
{"p":3,"g":0,"s":"N10","a":4.85,"x":0.05,"lo":-0.6,"hi":0.8},
{"p":3,"g":0,"s":"N10","a":5.1,"x":0.45,"lo":-0.3,"hi":1.2},
{"p":3,"g":0,"s":"N10","a":5.35,"x":0.35,"lo":-0.4,"hi":1.0},
{"p":3,"g":0,"s":"N10","a":5.6,"x":0.3,"lo":-0.5,"hi":1.0},
{"p":3,"g":0,"s":"N10","a":5.85,"x":1.16,"lo":0.3,"hi":1.6},
{"p":3,"g":0,"s":"N10","a":6.1,"x":0.5,"lo":-0.3,"hi":1.3},
{"p":3,"g":0,"s":"N10","a":6.3,"x":0.74,"lo":-0.2,"hi":1.4},
{"p":3,"g":1,"s":"N10","a":6.8,"x":0.73,"lo":0.4,"hi":1.0},
{"p":3,"g":1,"s":"N10","a":7.02,"x":-0.1,"lo":-0.4,"hi":0.3},
{"p":3,"g":1,"s":"N10","a":7.3,"x":0.9,"lo":0.5,"hi":1.3},
{"p":3,"g":1,"s":"N10","a":7.5,"x":1.2,"lo":0.8,"hi":1.5},
{"p":3,"g":1,"s":"N10","a":7.76,"x":-0.35,"lo":-0.6,"hi":0.0},
{"p":3,"g":0,"s":"N50","a":0.1,"x":-1.3,"lo":-1.9,"hi":-0.7},
{"p":3,"g":0,"s":"N50","a":0.35,"x":-0.75,"lo":-1.85,"hi":-0.1},
{"p":3,"g":0,"s":"N50","a":0.6,"x":-1.1,"lo":-1.9,"hi":-0.4},
{"p":3,"g":0,"s":"N50","a":0.85,"x":-0.6,"lo":-1.85,"hi":0.1},
{"p":3,"g":0,"s":"N50","a":1.1,"x":-0.2,"lo":-1.85,"hi":0.5},
{"p":3,"g":0,"s":"N50","a":1.35,"x":0.1,"lo":-1.9,"hi":0.8},
{"p":3,"g":0,"s":"N50","a":1.6,"x":0.2,"lo":-1.85,"hi":0.9},
{"p":3,"g":0,"s":"N50","a":1.85,"x":0.45,"lo":-0.3,"hi":1.1},
{"p":3,"g":0,"s":"N50","a":2.1,"x":0.35,"lo":-0.5,"hi":1.0},
{"p":3,"g":0,"s":"N50","a":2.35,"x":0.6,"lo":-0.1,"hi":1.3},
{"p":3,"g":0,"s":"N50","a":2.6,"x":0.25,"lo":-0.4,"hi":0.9},
{"p":3,"g":0,"s":"N50","a":2.85,"x":0.0,"lo":-0.7,"hi":0.7},
{"p":3,"g":0,"s":"N50","a":3.1,"x":-0.1,"lo":-0.8,"hi":0.6},
{"p":3,"g":0,"s":"N50","a":3.35,"x":0.0,"lo":-0.7,"hi":0.7},
{"p":3,"g":0,"s":"N50","a":3.6,"x":-0.02,"lo":-0.7,"hi":0.7},
{"p":3,"g":0,"s":"N50","a":3.85,"x":0.15,"lo":-0.5,"hi":0.8},
{"p":3,"g":0,"s":"N50","a":4.1,"x":0.2,"lo":-0.5,"hi":0.9},
{"p":3,"g":0,"s":"N50","a":4.35,"x":0.0,"lo":-0.7,"hi":0.7},
{"p":3,"g":0,"s":"N50","a":4.6,"x":-0.06,"lo":-0.8,"hi":0.6},
{"p":3,"g":0,"s":"N50","a":4.85,"x":-0.58,"lo":-1.3,"hi":0.1},
{"p":3,"g":0,"s":"N50","a":5.1,"x":-0.3,"lo":-1.0,"hi":0.4},
{"p":3,"g":0,"s":"N50","a":5.35,"x":-0.06,"lo":-0.8,"hi":0.6},
{"p":3,"g":0,"s":"N50","a":5.6,"x":-0.2,"lo":-0.9,"hi":0.5},
{"p":3,"g":0,"s":"N50","a":5.85,"x":-0.32,"lo":-1.0,"hi":0.4},
{"p":3,"g":0,"s":"N50","a":6.1,"x":0.0,"lo":-0.7,"hi":0.7},
{"p":3,"g":0,"s":"N50","a":6.3,"x":-0.18,"lo":-0.9,"hi":0.5},
{"p":3,"g":1,"s":"N50","a":6.8,"x":0.28,"lo":0.0,"hi":0.55},
{"p":3,"g":1,"s":"N50","a":7.02,"x":-0.24,"lo":-0.5,"hi":0.05},
{"p":3,"g":1,"s":"N50","a":7.3,"x":0.35,"lo":0.1,"hi":0.6},
{"p":3,"g":1,"s":"N50","a":7.5,"x":0.15,"lo":-0.1,"hi":0.4},
{"p":3,"g":1,"s":"N50","a":7.76,"x":-0.68,"lo":-0.9,"hi":-0.4},
{"p":3,"g":0,"s":"N80","a":0.1,"x":-1.15,"lo":-1.95,"hi":-0.5},
{"p":3,"g":0,"s":"N80","a":0.35,"x":-0.5,"lo":-1.85,"hi":0.2},
{"p":3,"g":0,"s":"N80","a":0.6,"x":-1.1,"lo":-1.95,"hi":-0.3},
{"p":3,"g":0,"s":"N80","a":0.85,"x":-0.4,"lo":-1.85,"hi":0.3},
{"p":3,"g":0,"s":"N80","a":1.1,"x":0.1,"lo":-1.8,"hi":0.8},
{"p":3,"g":0,"s":"N80","a":1.35,"x":0.4,"lo":-1.85,"hi":1.1},
{"p":3,"g":0,"s":"N80","a":1.6,"x":0.35,"lo":-1.8,"hi":1.0},
{"p":3,"g":0,"s":"N80","a":1.85,"x":0.7,"lo":-0.2,"hi":1.4},
{"p":3,"g":0,"s":"N80","a":2.1,"x":0.4,"lo":-0.9,"hi":1.0},
{"p":3,"g":0,"s":"N80","a":2.35,"x":0.3,"lo":-0.4,"hi":1.0},
{"p":3,"g":0,"s":"N80","a":2.6,"x":-0.1,"lo":-0.8,"hi":0.6},
{"p":3,"g":0,"s":"N80","a":2.85,"x":-0.35,"lo":-1.1,"hi":0.3},
{"p":3,"g":0,"s":"N80","a":3.1,"x":-0.6,"lo":-1.3,"hi":0.1},
{"p":3,"g":0,"s":"N80","a":3.35,"x":-0.35,"lo":-1.0,"hi":0.3},
{"p":3,"g":0,"s":"N80","a":3.6,"x":-0.7,"lo":-1.4,"hi":0.0},
{"p":3,"g":0,"s":"N80","a":3.85,"x":-0.6,"lo":-1.3,"hi":0.1},
{"p":3,"g":0,"s":"N80","a":4.1,"x":-0.6,"lo":-1.3,"hi":0.1},
{"p":3,"g":0,"s":"N80","a":4.35,"x":-0.5,"lo":-1.2,"hi":0.2},
{"p":3,"g":0,"s":"N80","a":4.6,"x":-0.6,"lo":-1.3,"hi":0.1},
{"p":3,"g":0,"s":"N80","a":4.85,"x":-1.07,"lo":-1.8,"hi":-0.4},
{"p":3,"g":0,"s":"N80","a":5.1,"x":-0.9,"lo":-1.6,"hi":-0.2},
{"p":3,"g":0,"s":"N80","a":5.35,"x":-0.58,"lo":-1.3,"hi":0.1},
{"p":3,"g":0,"s":"N80","a":5.6,"x":-0.9,"lo":-1.6,"hi":-0.2},
{"p":3,"g":0,"s":"N80","a":5.85,"x":-1.37,"lo":-2.0,"hi":-0.7},
{"p":3,"g":0,"s":"N80","a":6.1,"x":0.3,"lo":-0.4,"hi":1.0},
{"p":3,"g":0,"s":"N80","a":6.3,"x":-0.45,"lo":-1.2,"hi":0.3},
{"p":3,"g":1,"s":"N80","a":6.8,"x":0.2,"lo":-0.05,"hi":0.45},
{"p":3,"g":1,"s":"N80","a":7.02,"x":-0.3,"lo":-0.6,"hi":0.0},
{"p":3,"g":1,"s":"N80","a":7.3,"x":0.25,"lo":0.0,"hi":0.5},
{"p":3,"g":1,"s":"N80","a":7.5,"x":-0.1,"lo":-0.4,"hi":0.2},
{"p":3,"g":1,"s":"N80","a":7.76,"x":-1.17,"lo":-1.4,"hi":-0.9},
{"p":3,"g":0,"s":"N120","a":0.1,"x":-1.1,"lo":-1.95,"hi":-0.3},
{"p":3,"g":0,"s":"N120","a":0.35,"x":-0.3,"lo":-1.8,"hi":0.4},
{"p":3,"g":0,"s":"N120","a":0.6,"x":-1.05,"lo":-1.95,"hi":-0.2},
{"p":3,"g":0,"s":"N120","a":0.85,"x":-0.2,"lo":-1.8,"hi":0.5},
{"p":3,"g":0,"s":"N120","a":1.1,"x":0.2,"lo":-1.85,"hi":0.9},
{"p":3,"g":0,"s":"N120","a":1.35,"x":0.5,"lo":-1.8,"hi":1.2},
{"p":3,"g":0,"s":"N120","a":1.6,"x":0.4,"lo":-1.85,"hi":1.1},
{"p":3,"g":0,"s":"N120","a":1.85,"x":0.8,"lo":-0.5,"hi":1.5},
{"p":3,"g":0,"s":"N120","a":2.1,"x":0.38,"lo":-1.0,"hi":1.05},
{"p":3,"g":0,"s":"N120","a":2.35,"x":0.25,"lo":-0.45,"hi":0.95},
{"p":3,"g":0,"s":"N120","a":2.6,"x":-0.2,"lo":-0.85,"hi":0.5},
{"p":3,"g":0,"s":"N120","a":2.85,"x":-0.55,"lo":-1.3,"hi":0.1},
{"p":3,"g":0,"s":"N120","a":3.1,"x":-0.85,"lo":-1.5,"hi":-0.1},
{"p":3,"g":0,"s":"N120","a":3.35,"x":-0.38,"lo":-1.05,"hi":0.3},
{"p":3,"g":0,"s":"N120","a":3.6,"x":-1.0,"lo":-1.6,"hi":-0.3},
{"p":3,"g":0,"s":"N120","a":3.85,"x":-0.95,"lo":-1.6,"hi":-0.3},
{"p":3,"g":0,"s":"N120","a":4.1,"x":-0.9,"lo":-1.6,"hi":-0.2},
{"p":3,"g":0,"s":"N120","a":4.35,"x":-0.75,"lo":-1.4,"hi":-0.1},
{"p":3,"g":0,"s":"N120","a":4.6,"x":-0.8,"lo":-1.45,"hi":-0.1},
{"p":3,"g":0,"s":"N120","a":4.85,"x":-1.3,"lo":-1.9,"hi":-0.6},
{"p":3,"g":0,"s":"N120","a":5.1,"x":-1.3,"lo":-1.85,"hi":-0.6},
{"p":3,"g":0,"s":"N120","a":5.35,"x":-0.9,"lo":-1.6,"hi":-0.2},
{"p":3,"g":0,"s":"N120","a":5.6,"x":-1.2,"lo":-1.85,"hi":-0.5},
{"p":3,"g":0,"s":"N120","a":5.85,"x":-1.7,"lo":-2.0,"hi":-1.0},
{"p":3,"g":0,"s":"N120","a":6.1,"x":0.4,"lo":-0.3,"hi":1.05},
{"p":3,"g":0,"s":"N120","a":6.3,"x":-0.9,"lo":-1.6,"hi":-0.2},
{"p":3,"g":1,"s":"N120","a":6.8,"x":-0.28,"lo":-0.55,"hi":0.0},
{"p":3,"g":1,"s":"N120","a":7.02,"x":-0.7,"lo":-1.0,"hi":-0.4},
{"p":3,"g":1,"s":"N120","a":7.3,"x":0.2,"lo":-0.05,"hi":0.45},
{"p":3,"g":1,"s":"N120","a":7.5,"x":-0.5,"lo":-0.8,"hi":-0.2},
{"p":3,"g":1,"s":"N120","a":7.76,"x":-1.46,"lo":-1.7,"hi":-1.2},
{"p":3,"g":0,"s":"N150","a":0.1,"x":-1.03,"lo":-1.9,"hi":-0.1},
{"p":3,"g":0,"s":"N150","a":0.35,"x":-0.05,"lo":-1.8,"hi":0.6},
{"p":3,"g":0,"s":"N150","a":0.6,"x":-0.95,"lo":-1.95,"hi":-0.1},
{"p":3,"g":0,"s":"N150","a":0.85,"x":-0.05,"lo":-1.85,"hi":0.7},
{"p":3,"g":0,"s":"N150","a":1.1,"x":0.3,"lo":-1.8,"hi":1.0},
{"p":3,"g":0,"s":"N150","a":1.35,"x":0.6,"lo":-1.85,"hi":1.3},
{"p":3,"g":0,"s":"N150","a":1.6,"x":0.47,"lo":-1.8,"hi":1.2},
{"p":3,"g":0,"s":"N150","a":1.85,"x":0.86,"lo":-0.4,"hi":1.6},
{"p":3,"g":0,"s":"N150","a":2.1,"x":0.35,"lo":-1.0,"hi":1.1},
{"p":3,"g":0,"s":"N150","a":2.35,"x":0.2,"lo":-0.5,"hi":0.9},
{"p":3,"g":0,"s":"N150","a":2.6,"x":-0.3,"lo":-0.9,"hi":0.5},
{"p":3,"g":0,"s":"N150","a":2.85,"x":-0.7,"lo":-1.4,"hi":0.0},
{"p":3,"g":0,"s":"N150","a":3.1,"x":-1.03,"lo":-1.7,"hi":-0.3},
{"p":3,"g":0,"s":"N150","a":3.35,"x":-0.4,"lo":-1.1,"hi":0.3},
{"p":3,"g":0,"s":"N150","a":3.6,"x":-1.2,"lo":-1.8,"hi":-0.5},
{"p":3,"g":0,"s":"N150","a":3.85,"x":-1.22,"lo":-1.85,"hi":-0.55},
{"p":3,"g":0,"s":"N150","a":4.1,"x":-1.17,"lo":-1.8,"hi":-0.5},
{"p":3,"g":0,"s":"N150","a":4.35,"x":-0.95,"lo":-1.6,"hi":-0.3},
{"p":3,"g":0,"s":"N150","a":4.6,"x":-1.0,"lo":-1.6,"hi":-0.3},
{"p":3,"g":0,"s":"N150","a":4.85,"x":-1.55,"lo":-2.0,"hi":-0.9},
{"p":3,"g":0,"s":"N150","a":5.1,"x":-1.58,"lo":-2.0,"hi":-1.0},
{"p":3,"g":0,"s":"N150","a":5.35,"x":-1.2,"lo":-1.8,"hi":-0.5},
{"p":3,"g":0,"s":"N150","a":5.6,"x":-1.5,"lo":-2.0,"hi":-0.8},
{"p":3,"g":0,"s":"N150","a":5.85,"x":-1.9,"lo":-2.0,"hi":-1.3},
{"p":3,"g":0,"s":"N150","a":6.1,"x":0.47,"lo":-0.3,"hi":1.1},
{"p":3,"g":0,"s":"N150","a":6.3,"x":-1.37,"lo":-1.9,"hi":-0.7},
{"p":3,"g":1,"s":"N150","a":6.8,"x":-0.06,"lo":-0.35,"hi":0.2},
{"p":3,"g":1,"s":"N150","a":7.02,"x":-0.8,"lo":-1.1,"hi":-0.5},
{"p":3,"g":1,"s":"N150","a":7.3,"x":0.28,"lo":0.0,"hi":0.5},
{"p":3,"g":1,"s":"N150","a":7.5,"x":-0.55,"lo":-0.85,"hi":-0.25},
{"p":3,"g":1,"s":"N150","a":7.76,"x":-1.66,"lo":-1.9,"hi":-1.4}
]},
"hconcat": [
{
"width": 306, "height": 501,
"title": {"text": ["Northern", "extratropics"], "offset": -4},
"layer": [
{"data": {"name": "d"}, "transform": [{"filter": "datum.p == 1"}],
 "mark": {"type": "area", "orient": "horizontal", "opacity": 0.3},
 "encoding": {
  "y": {"field": "a", "type": "quantitative", "scale": {"domain": [0, 8], "nice": false}, "axis": {"title": "Altitude (km)", "values": [0,1,2,3,4,5,6,7,8], "format": "d"}},
  "x": {"field": "lo", "type": "quantitative", "scale": {"domain": [-2, 2], "nice": false}, "axis": {"title": null, "values": [-2,-1,0,1,2], "format": "d"}},
  "x2": {"field": "hi"},
  "color": {"field": "s", "type": "nominal", "title": null, "scale": {"domain": ["N10","N50","N80","N120","N150"], "range": ["#35210f","#6f462c","#9f643f","#cf8152","#ffa065"]}}
 }},
{"data": {"values": [{}]}, "mark": {"type": "rule", "strokeDash": [15, 7], "strokeWidth": 4, "color": "#000"}, "encoding": {"x": {"datum": 0, "type": "quantitative"}}},
{"data": {"name": "d"}, "transform": [{"filter": "datum.p == 1"}],
 "mark": {"type": "line", "strokeWidth": 3.5},
 "encoding": {
  "y": {"field": "a", "type": "quantitative", "scale": {"domain": [0, 8], "nice": false}, "axis": {"title": "Altitude (km)", "values": [0,1,2,3,4,5,6,7,8], "format": "d"}},
  "x": {"field": "x", "type": "quantitative", "scale": {"domain": [-2, 2], "nice": false}, "axis": {"title": null, "values": [-2,-1,0,1,2], "format": "d"}},
  "order": {"field": "a", "type": "quantitative"},
  "color": {"field": "s", "type": "nominal", "title": null, "scale": {"domain": ["N10","N50","N80","N120","N150"], "range": ["#35210f","#6f462c","#9f643f","#cf8152","#ffa065"]}}
 }}
]
},
{
"width": 306, "height": 501,
"title": {"text": "More Convective Flux", "subtitle": "Tropics", "fontSize": 34, "dx": -13, "offset": -4, "subtitlePadding": 4},
"layer": [
{"data": {"name": "d"}, "transform": [{"filter": "datum.p == 2"}],
 "mark": {"type": "area", "orient": "horizontal", "opacity": 0.3},
 "encoding": {
  "y": {"field": "a", "type": "quantitative", "scale": {"domain": [0, 8], "nice": false}, "axis": {"title": null, "labels": false, "values": [0,1,2,3,4,5,6,7,8]}},
  "x": {"field": "lo", "type": "quantitative", "scale": {"domain": [-2, 2], "nice": false}, "axis": {"title": "Fractional bias (Model - Obs)", "values": [-2,-1,0,1,2], "format": "d"}},
  "x2": {"field": "hi"},
  "color": {"field": "s", "type": "nominal", "title": null, "scale": {"domain": ["N10","N50","N80","N120","N150"], "range": ["#35210f","#6f462c","#9f643f","#cf8152","#ffa065"]}}
 }},
{"data": {"values": [{}]}, "mark": {"type": "rule", "strokeDash": [15, 7], "strokeWidth": 4, "color": "#000"}, "encoding": {"x": {"datum": 0, "type": "quantitative"}}},
{"data": {"name": "d"}, "transform": [{"filter": "datum.p == 2"}],
 "mark": {"type": "line", "strokeWidth": 3.5},
 "encoding": {
  "y": {"field": "a", "type": "quantitative", "scale": {"domain": [0, 8], "nice": false}, "axis": {"title": null, "labels": false, "values": [0,1,2,3,4,5,6,7,8]}},
  "x": {"field": "x", "type": "quantitative", "scale": {"domain": [-2, 2], "nice": false}, "axis": {"title": "Fractional bias (Model - Obs)", "values": [-2,-1,0,1,2], "format": "d"}},
  "order": {"field": "a", "type": "quantitative"},
  "color": {"field": "s", "type": "nominal", "title": null, "scale": {"domain": ["N10","N50","N80","N120","N150"], "range": ["#35210f","#6f462c","#9f643f","#cf8152","#ffa065"]}}
 }}
]
},
{
"width": 306, "height": 501,
"title": {"text": ["Southern", "extratropics"], "offset": -4},
"layer": [
{"data": {"name": "d"}, "transform": [{"filter": "datum.p == 3"}],
 "mark": {"type": "area", "orient": "horizontal", "opacity": 0.3},
 "encoding": {
  "y": {"field": "a", "type": "quantitative", "scale": {"domain": [0, 8], "nice": false}, "axis": {"title": null, "labels": false, "values": [0,1,2,3,4,5,6,7,8]}},
  "x": {"field": "lo", "type": "quantitative", "scale": {"domain": [-2, 2], "nice": false}, "axis": {"title": null, "values": [-2,-1,0,1,2], "format": "d"}},
  "x2": {"field": "hi"},
  "detail": {"field": "g", "type": "nominal"},
  "color": {"field": "s", "type": "nominal", "title": null, "scale": {"domain": ["N10","N50","N80","N120","N150"], "range": ["#35210f","#6f462c","#9f643f","#cf8152","#ffa065"]}}
 }},
{"data": {"values": [{}]}, "mark": {"type": "rule", "strokeDash": [15, 7], "strokeWidth": 4, "color": "#000"}, "encoding": {"x": {"datum": 0, "type": "quantitative"}}},
{"data": {"name": "d"}, "transform": [{"filter": "datum.p == 3"}],
 "mark": {"type": "line", "strokeWidth": 3.5},
 "encoding": {
  "y": {"field": "a", "type": "quantitative", "scale": {"domain": [0, 8], "nice": false}, "axis": {"title": null, "labels": false, "values": [0,1,2,3,4,5,6,7,8]}},
  "x": {"field": "x", "type": "quantitative", "scale": {"domain": [-2, 2], "nice": false}, "axis": {"title": null, "values": [-2,-1,0,1,2], "format": "d"}},
  "order": {"field": "a", "type": "quantitative"},
  "detail": {"field": "g", "type": "nominal"},
  "color": {"field": "s", "type": "nominal", "title": null, "scale": {"domain": ["N10","N50","N80","N120","N150"], "range": ["#35210f","#6f462c","#9f643f","#cf8152","#ffa065"]}}
 }}
]
}
],
"config": {
 "font": "DejaVu Sans",
 "view": {"stroke": "#222", "strokeWidth": 1.5},
 "axis": {"grid": false, "domain": false, "tickColor": "#222", "tickWidth": 1.5, "tickSize": 6, "labelFontSize": 22, "labelColor": "#000", "titleFontSize": 27, "titleFontWeight": "normal", "titleColor": "#000", "labelPadding": 14, "titlePadding": 8, "labelOverlap": false, "labelFlush": false},
 "axisX": {"labelPadding": 12, "titlePadding": 11},
 "title": {"fontSize": 28, "fontWeight": "normal", "color": "#000", "lineHeight": 30, "subtitleFontSize": 28, "subtitleColor": "#000", "subtitleFont": "DejaVu Sans"},
 "legend": {"orient": "none", "legendX": 1006, "legendY": -71, "symbolType": "M-0.75,0H2.25", "symbolStrokeWidth": 4.5, "symbolSize": 1200, "symbolOpacity": 1, "labelFontSize": 23, "labelColor": "#000", "rowPadding": 3.5, "padding": 4, "strokeColor": "#d0d0d0", "fillColor": "#fff", "cornerRadius": 4, "labelOffset": 43}
}
}
